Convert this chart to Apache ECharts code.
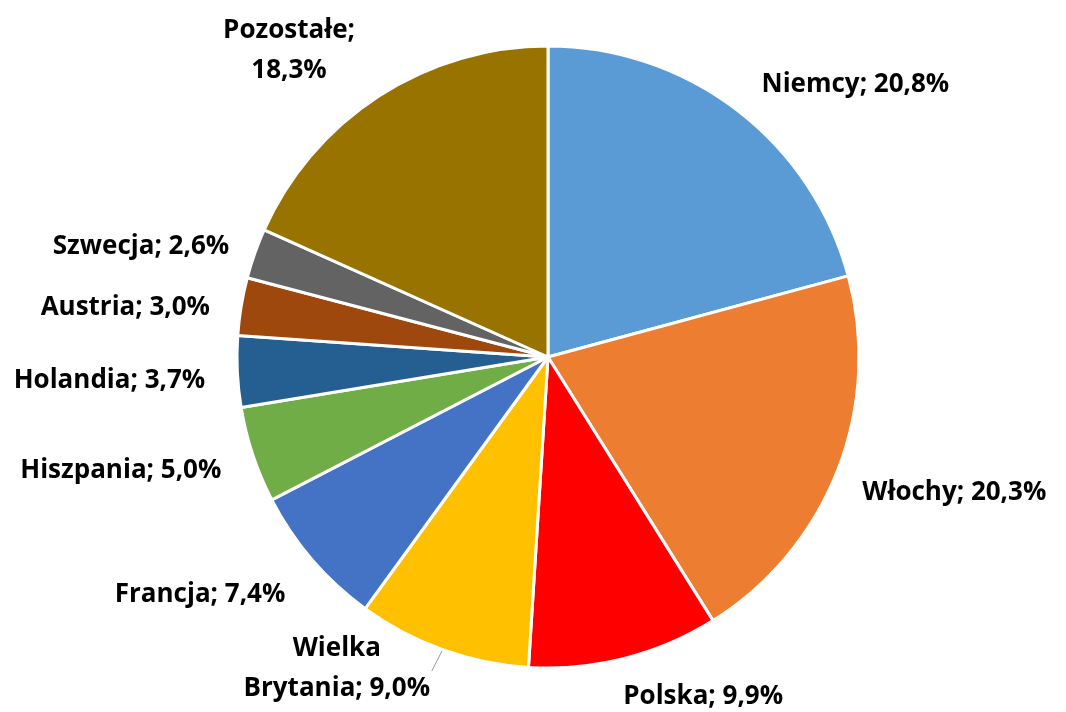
<!DOCTYPE html>
<html>
<head>
<meta charset="utf-8">
<script src="https://cdn.jsdelivr.net/npm/echarts@6/dist/echarts.min.js"></script>
<style>
  html, body { margin: 0; padding: 0; background: #fff; }
  #chart { width: 1066px; height: 712px; }
</style>
</head>
<body>
<div id="chart"></div>
<script>
// udział krajów (%)
const countries = ['Niemcy', 'Włochy', 'Polska', 'Wielka Brytania', 'Francja', 'Hiszpania', 'Holandia', 'Austria', 'Szwecja', 'Pozostałe']
const shares = [20.8, 20.3, 9.9, 9.0, 7.4, 5.0, 3.7, 3.0, 2.6, 18.3]
const colors = ['#5B9BD5', '#ED7D31', '#FF0000', '#FFC000', '#4472C4', '#70AD47', '#255E91', '#9E480E', '#636363', '#997300']

// drobne przesunięcia etykiet (jak w Excelu)
const labelNudge = {
  'Włochy': [-10, 10],
  'Polska': [-14, 7],
  'Wielka Brytania': [10, -2],
  'Francja': [0, 22],
  'Hiszpania': [0, 11],
  'Holandia': [0, 12],
  'Austria': [0, 10],
  'Szwecja': [4, 7],
  'Pozostałe': [0, -19]
}

const chart = echarts.init(document.getElementById('chart'))

const pieData = countries.map((name, i) => ({
  name: name,
  value: shares[i],
  itemStyle: { color: colors[i] },
  labelLine: { show: name === 'Wielka Brytania' }
}))

// etykiety dwuwierszowe wyśrodkowane
function fmt (p) {
  const v = p.value.toFixed(1).replace('.', ',') + '%'
  if (p.name === 'Wielka Brytania') return '{wb|Wielka}\n{wb|Brytania; ' + v + '}'
  if (p.name === 'Pozostałe') return '{po|Pozostałe;}\n{po|' + v + '}'
  return p.name + '; ' + v
}

const txt = {
  fontFamily: 'Open Sans',
  fontWeight: 'bold',
  fontSize: 26,
  lineHeight: 40,
  color: '#000'
}

chart.setOption({
  animation: false,
  series: [{
    type: 'pie',
    center: [548, 357],
    radius: 311,
    startAngle: 90,
    clockwise: true,
    data: pieData,
    itemStyle: { borderColor: '#fff', borderWidth: 3 },
    label: Object.assign({
      show: true,
      position: 'outside',
      overflow: 'none',
      formatter: fmt,
      rich: {
        wb: Object.assign({ width: 200, align: 'center' }, txt),
        po: Object.assign({ width: 135, align: 'center' }, txt)
      }
    }, txt),
    labelLine: {
      length: 32,
      length2: 0,
      lineStyle: { color: '#999', width: 1 }
    },
    labelLayout: function (params) {
      const n = labelNudge[countries[params.dataIndex]]
      return n ? { dx: n[0], dy: n[1] } : {}
    }
  }]
})
</script>
</body>
</html>
